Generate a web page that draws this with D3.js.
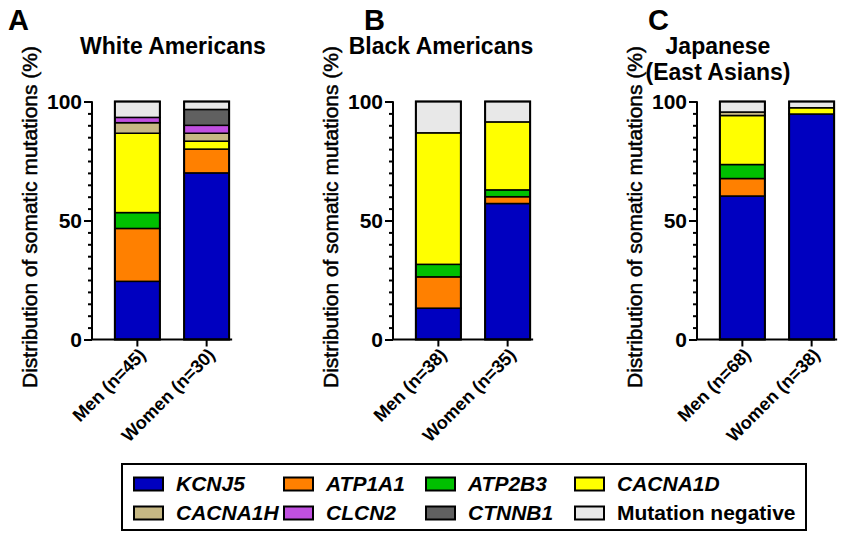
<!DOCTYPE html>
<html>
<head>
<meta charset="utf-8">
<title>Distribution of somatic mutations</title>
<script src="https://d3js.org/d3.v7.min.js"></script>
<style>
  body { margin: 0; background: #fff; }
  svg { font-family: "Liberation Sans", Arial, sans-serif; }
</style>
</head>
<body>
<svg id="chart" width="863" height="539"></svg>
<script>
// ---- data ----
var panelLetters = ["A", "B", "C"];
var panelTitles = [["White Americans"], ["Black Americans"], ["Japanese", "(East Asians)"]];
var groupLabels = [
    ["Men (n=45)", "Women (n=30)"],
    ["Men (n=38)", "Women (n=35)"],
    ["Men (n=68)", "Women (n=38)"]
];
var genes = ["KCNJ5", "ATP1A1", "ATP2B3", "CACNA1D", "CACNA1H", "CLCN2", "CTNNB1", "Mutation negative"];
var geneColors = ["#0000c0", "#ff8000", "#00c000", "#ffff00", "#c6b884", "#c050e0", "#606060", "#e8e8e8"];

// percent per bar, order: A men, A women, B men, B women, C men, C women
var KCNJ5            = [24.44, 70.00, 13.16, 57.14, 60.29, 94.74];
var ATP1A1           = [22.22, 10.00, 13.16,  2.86,  7.35,  0];
var ATP2B3           = [ 6.67,  0,     5.26,  2.86,  5.88,  0];
var CACNA1D          = [33.33,  3.33, 55.26, 28.57, 20.59,  2.63];
var CACNA1H          = [ 4.44,  3.33,  0,     0,     1.47,  0];
var CLCN2            = [ 2.22,  3.33,  0,     0,     0,     0];
var CTNNB1           = [ 0,     6.67,  0,     0,     0,     0];
var mutationNegative = [ 6.67,  3.33, 13.16,  8.57,  4.41,  2.63];

var yTicks = [0, 50, 100];
var yMinorTicks = d3.range(0, 101, 5);

var series = [KCNJ5, ATP1A1, ATP2B3, CACNA1D, CACNA1H, CLCN2, CTNNB1, mutationNegative];

// ---- layout ----
var svg = d3.select("#chart");
var axisX = [92, 393, 697];         // y-axis position of each panel
var titleX = [173, 441, 718];
var letterX = [8, 364, 648];

var y = d3.scaleLinear().domain([0, 100]).range([339.5, 101.5]);
var color = d3.scaleOrdinal().domain(genes).range(geneColors);

panelLetters.forEach(function (letter, p) {
    var g = svg.append("g");
    var x = d3.scaleBand()
        .domain(groupLabels[p])
        .range([axisX[p], axisX[p] + 160])
        .paddingInner(0.35)
        .paddingOuter(0.33);

    // rows for stacking
    var rows = groupLabels[p].map(function (grp, i) {
        var r = { group: grp };
        genes.forEach(function (gene, k) { r[gene] = series[k][p * 2 + i]; });
        return r;
    });
    var stacked = d3.stack().keys(genes)(rows);

    // panel letter and title
    g.append("text")
        .attr("x", letterX[p]).attr("y", 30)
        .attr("font-size", 29).attr("font-weight", "bold")
        .text(letter);
    panelTitles[p].forEach(function (line, li) {
        g.append("text")
            .attr("x", titleX[p]).attr("y", 54 + li * 26)
            .attr("text-anchor", "middle")
            .attr("font-size", 23).attr("font-weight", "bold")
            .text(line);
    });

    // bars
    stacked.forEach(function (layer) {
        g.selectAll(null)
            .data(layer.filter(function (d) { return d[1] - d[0] > 0; }))
            .enter().append("rect")
            .attr("x", function (d) { return x(d.data.group); })
            .attr("y", function (d) { return y(d[1]); })
            .attr("width", x.bandwidth())
            .attr("height", function (d) { return y(d[0]) - y(d[1]); })
            .attr("fill", color(layer.key))
            .attr("stroke", "#000")
            .attr("stroke-width", 1.5);
    });
    g.selectAll(null)
        .data(rows)
        .enter().append("rect")
        .attr("x", function (d) { return x(d.group); })
        .attr("y", y(100))
        .attr("width", x.bandwidth())
        .attr("height", y(0) - y(100))
        .attr("fill", "none")
        .attr("stroke", "#000")
        .attr("stroke-width", 2);

    // y axis: minor ticks then major ticks
    var yMinor = g.append("g")
        .attr("transform", "translate(" + axisX[p] + ",0)")
        .call(d3.axisLeft(y).tickValues(yMinorTicks).tickSize(4).tickFormat(""));
    var yMajor = g.append("g")
        .attr("transform", "translate(" + axisX[p] + ",0)")
        .call(d3.axisLeft(y).tickValues(yTicks).tickSize(8).tickPadding(2));
    [yMinor, yMajor].forEach(function (ax) {
        ax.select(".domain").attr("stroke-width", 2).attr("d", "M0," + y(0) + "V" + y(100));
        ax.selectAll(".tick line").attr("stroke-width", 2);
    });
    yMajor.selectAll(".tick text")
        .attr("font-size", 21).attr("font-weight", "bold")
        .attr("font-family", "Liberation Sans, Arial, sans-serif")
        .attr("fill", "#000");

    // x axis
    var lastRight = x(groupLabels[p][1]) + x.bandwidth() + 3;
    var xAxis = g.append("g")
        .attr("transform", "translate(0," + y(0) + ")")
        .call(d3.axisBottom(x).tickSize(7).tickFormat(""));
    xAxis.select(".domain").attr("stroke-width", 2).attr("d", "M" + (axisX[p] - 1) + ",0H" + lastRight);
    xAxis.selectAll(".tick line").attr("stroke-width", 2);

    groupLabels[p].forEach(function (lbl) {
        var cx = x(lbl) + x.bandwidth() / 2;
        g.append("text")
            .attr("transform", "translate(" + (cx + 5) + "," + (y(0) + 12) + ") rotate(-45)")
            .attr("text-anchor", "end")
            .attr("dy", "0.35em")
            .attr("font-size", 18).attr("font-weight", "bold")
            .text(lbl);
    });

    // y label
    g.append("text")
        .attr("transform", "translate(" + (axisX[p] - 62) + ",217) rotate(-90)")
        .attr("text-anchor", "middle")
        .attr("dy", "0.35em")
        .attr("font-size", 21)
        .attr("stroke", "#000").attr("stroke-width", 0.5)
        .text("Distribution of somatic mutations (%)");
});

// ---- legend ----
var legendCols = [134, 284, 426, 575];
var legendRows = [484, 513];
var legend = svg.append("g");
legend.append("rect")
    .attr("x", 122).attr("y", 464).attr("width", 684).attr("height", 66)
    .attr("fill", "#fff").attr("stroke", "#000").attr("stroke-width", 2);

genes.forEach(function (gene, i) {
    var lx = legendCols[i % 4], ly = legendRows[Math.floor(i / 4)];
    legend.append("rect")
        .attr("x", lx).attr("y", ly - 6.5).attr("width", 29).attr("height", 13)
        .attr("fill", color(gene)).attr("stroke", "#000").attr("stroke-width", 2);
    legend.append("text")
        .attr("x", lx + 42).attr("y", ly)
        .attr("dy", "0.35em")
        .attr("font-size", 21).attr("font-weight", "bold")
        .attr("font-style", gene === "Mutation negative" ? "normal" : "italic")
        .text(gene);
});
</script>
</body>
</html>
